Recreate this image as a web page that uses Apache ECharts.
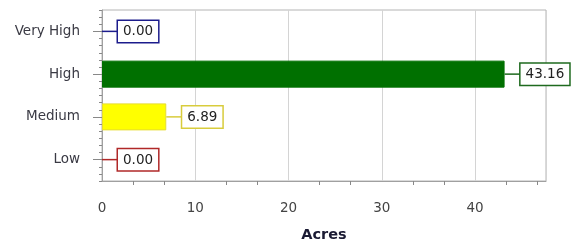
<!DOCTYPE html>
<html>
<head>
<meta charset="utf-8">
<script src="https://cdn.jsdelivr.net/npm/echarts@6/dist/echarts.min.js"></script>
<style>
  html, body { margin: 0; padding: 0; background: #fff; }
  #chart { width: 579px; height: 244px; }
</style>
</head>
<body>
<div id="chart"></div>
<script>
// categories bottom -> top, as the category axis draws them
const categories = ['Low', 'Medium', 'High', 'Very High']
const acres = [0.00, 6.89, 43.16, 0.00]
const barColors = ['#b22222', '#ffff00', '#007000', '#1c1c8c']
const labelBorders = ['#b02828', '#d8cc3c', '#1e6a1e', '#1c1c8c']

const font = 'DejaVu Sans'
const myChart = echarts.init(document.getElementById('chart'))

// one rich style pair per bar: a short leader line and the boxed value
const rich = {}
labelBorders.forEach((c, i) => {
  rich['l' + i] = { width: 16, height: 1.5, backgroundColor: c }
  rich['b' + i] = {
    fontFamily: font, fontSize: 13.5, color: '#222',
    backgroundColor: '#fff', borderColor: c, borderWidth: 1.5,
    padding: [4, 5, 3, 5]
  }
})

const data = acres.map((v, i) => ({
  value: v,
  itemStyle: { color: barColors[i], borderColor: i == 1 ? '#e6dc30' : barColors[i], borderWidth: v > 0 ? 1 : 0 }
}))

const option = {
  animation: false,
  grid: {
    left: 102, right: 33, top: 10, bottom: 63,
    outerBoundsMode: 'none',
    show: true, borderColor: '#b4b4b4', borderWidth: 1
  },
  xAxis: {
    type: 'value',
    min: 0, max: 47.6, interval: 10,
    name: 'Acres',
    nameLocation: 'middle',
    nameGap: 47,
    nameTextStyle: { fontFamily: font, fontWeight: 'bold', fontSize: 14.5, color: '#1a1a33' },
    axisLine: { show: true, lineStyle: { color: '#a0a0a0' } },
    axisTick: { show: false },
    minorTick: { show: true, splitNumber: 3, length: 4, lineStyle: { color: '#888' } },
    axisLabel: {
      margin: 20, fontFamily: font, fontSize: 13.5, color: '#444',
      showMaxLabel: false
    },
    splitLine: { show: true, lineStyle: { color: '#d4d4d4' } }
  },
  yAxis: [{
    type: 'category',
    data: categories,
    axisLine: { show: true, lineStyle: { color: '#a0a0a0' } },
    axisTick: { show: true, alignWithLabel: true, length: 9, lineStyle: { color: '#888' } },
    axisLabel: { margin: 22, fontFamily: font, fontSize: 13.5, color: '#3a3a44' }
  }, {
    // only for the small ticks along the category axis
    type: 'value',
    position: 'left',
    offset: 0,
    min: 0, max: 24, interval: 1,
    axisLine: { show: true, lineStyle: { color: 'rgba(0,0,0,0)' } },
    axisTick: { show: true, length: 3, lineStyle: { color: '#888' } },
    axisLabel: { show: false },
    splitLine: { show: false }
  }],
  series: [{
    type: 'bar',
    yAxisIndex: 0,
    barWidth: 27,
    data: data,
    label: {
      show: true,
      position: 'right',
      distance: 0,
      formatter: p => '{l' + p.dataIndex + '|}{b' + p.dataIndex + '|' + p.value.toFixed(2) + '}',
      rich: rich
    }
  }]
}
myChart.setOption(option)
</script>
</body>
</html>
